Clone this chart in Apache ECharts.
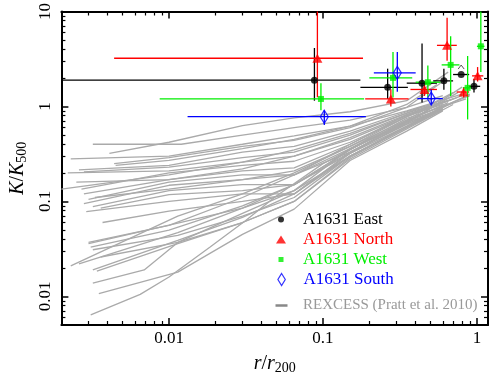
<!DOCTYPE html>
<html>
<head>
<meta charset="utf-8">
<title>A1631 entropy profiles</title>
<style>
  html, body { margin: 0; padding: 0; background: #fff; }
  #chart { width: 491px; height: 380px; }
</style>
<script src="https://cdn.jsdelivr.net/npm/echarts@6/dist/echarts.min.js"></script>
</head>
<body>
<div id="chart"></div>
<script>
// each point: [r/r200, K/K500, xLow, xHigh, yLow, yHigh]
var eastPoints = [
  [0.088, 1.89, 0.0015, 0.175, 1.15, 4.13],
  [0.263, 1.59, 0.175, 0.356, 1.2, 2.5],
  [0.44, 1.76, 0.35, 0.55, 1.1, 4.6],
  [0.61, 1.86, 0.52, 0.70, 1.5, 2.5],
  [0.79, 2.17, 0.70, 0.89, 2.17, 2.17],
  [0.957, 1.63, 0.89, 1.05, 1.4, 1.95]
];
var eastLimit = [[0.79, 2.6]];
var northPoints = [
  [0.092, 3.22, 0.0044, 0.182, 1.25, 12],
  [0.276, 1.2, 0.188, 0.36, 1.0, 1.52],
  [0.456, 1.51, 0.37, 0.55, 1.29, 1.72],
  [0.64, 4.4, 0.55, 0.74, 3.03, 8.6],
  [0.82, 1.42, 0.74, 0.89, 1.24, 1.59],
  [1.01, 2.1, 0.93, 1.1, 1.83, 2.6]
];
var westPoints = [
  [0.097, 1.2, 0.0087, 0.185, 0.91, 1.76],
  [0.285, 2.0, 0.2, 0.38, 1.24, 3.74],
  [0.48, 1.8, 0.40, 0.58, 1.24, 2.7],
  [0.675, 2.74, 0.59, 0.77, 1.29, 5.5],
  [0.87, 1.57, 0.81, 0.93, 0.73, 3.4],
  [1.06, 4.3, 1.0, 1.12, 2.3, 12]
];
var southPoints = [
  [0.102, 0.78, 0.0132, 0.19, 0.64, 0.91],
  [0.304, 2.26, 0.214, 0.40, 1.43, 3.74],
  [0.505, 1.21, 0.41, 0.60, 1.05, 1.51]
];

// REXCESS scaled entropy profiles
var rexcessProfiles = [
  [[0.0041, 0.32], [0.01, 0.42], [0.03, 0.63], [0.065, 0.76], [0.15, 0.88], [0.35, 1.15], [0.65, 2.3]],
  [[0.0032, 0.40], [0.012, 0.40], [0.03, 0.50], [0.065, 0.60], [0.15, 0.72], [0.35, 0.98], [0.6, 1.3]],
  [[0.0023, 0.28], [0.01, 0.30], [0.03, 0.40], [0.065, 0.49], [0.15, 0.62], [0.35, 0.9], [0.8, 1.35]],
  [[0.0044, 0.25], [0.01, 0.29], [0.03, 0.38], [0.065, 0.44], [0.15, 0.6], [0.35, 0.98], [0.62, 1.9]],
  [[0.0026, 0.215], [0.01, 0.24], [0.03, 0.33], [0.065, 0.38], [0.15, 0.55], [0.35, 0.88], [0.55, 1.1]],
  [[0.0028, 0.205], [0.01, 0.23], [0.03, 0.29], [0.065, 0.33], [0.15, 0.5], [0.35, 0.85], [0.7, 1.2]],
  [[0.002, 0.135], [0.005, 0.165], [0.01, 0.19], [0.03, 0.26], [0.065, 0.30], [0.15, 0.45], [0.35, 0.8], [0.6, 1.05]],
  [[0.0027, 0.135], [0.01, 0.20], [0.03, 0.24], [0.065, 0.265], [0.15, 0.42], [0.35, 0.78], [0.75, 1.25]],
  [[0.0028, 0.12], [0.01, 0.17], [0.03, 0.21], [0.065, 0.226], [0.15, 0.4], [0.35, 0.82], [0.5, 1.0]],
  [[0.003, 0.105], [0.01, 0.16], [0.03, 0.19], [0.065, 0.19], [0.15, 0.36], [0.35, 0.75], [0.85, 1.2]],
  [[0.0028, 0.095], [0.01, 0.148], [0.03, 0.17], [0.065, 0.19], [0.15, 0.33], [0.35, 0.7], [0.6, 0.95]],
  [[0.0032, 0.088], [0.01, 0.13], [0.03, 0.15], [0.065, 0.15], [0.15, 0.35], [0.35, 0.72], [0.9, 1.3]],
  [[0.0036, 0.085], [0.01, 0.118], [0.03, 0.13], [0.065, 0.15], [0.15, 0.33], [0.35, 0.65], [0.55, 0.9]],
  [[0.0029, 0.078], [0.01, 0.10], [0.03, 0.12], [0.065, 0.12], [0.15, 0.32], [0.35, 0.62], [0.7, 1.1]],
  [[0.0037, 0.06], [0.01, 0.079], [0.03, 0.10], [0.065, 0.12], [0.15, 0.3], [0.35, 0.6], [0.6, 0.92]],
  [[0.003, 0.037], [0.01, 0.056], [0.03, 0.11], [0.065, 0.19], [0.15, 0.4], [0.35, 0.78], [0.8, 1.3]],
  [[0.0031, 0.033], [0.01, 0.05], [0.03, 0.09], [0.065, 0.15], [0.15, 0.35], [0.35, 0.7], [0.65, 1.1]],
  [[0.0023, 0.021], [0.0114, 0.07], [0.03, 0.12], [0.065, 0.2], [0.15, 0.38], [0.35, 0.72], [0.5, 1.0]],
  [[0.0026, 0.022], [0.0114, 0.047], [0.03, 0.085], [0.065, 0.15], [0.15, 0.32], [0.35, 0.68], [0.75, 1.4]],
  [[0.003, 0.036], [0.0114, 0.059], [0.03, 0.085], [0.065, 0.13], [0.15, 0.3], [0.35, 0.62], [0.6, 1.0]],
  [[0.0032, 0.031], [0.0114, 0.044], [0.03, 0.07], [0.065, 0.11], [0.15, 0.3], [0.35, 0.6], [0.55, 0.9]],
  [[0.0036, 0.026], [0.0114, 0.037], [0.03, 0.06], [0.065, 0.1], [0.15, 0.28], [0.35, 0.58], [0.7, 1.05]],
  [[0.0032, 0.019], [0.0114, 0.039], [0.03, 0.068], [0.065, 0.12], [0.15, 0.33], [0.35, 0.65], [0.9, 1.35]],
  [[0.0034, 0.0185], [0.0114, 0.036], [0.03, 0.06], [0.065, 0.1], [0.15, 0.29], [0.35, 0.6], [0.6, 0.95]],
  [[0.0032, 0.0138], [0.0069, 0.019], [0.0114, 0.037], [0.03, 0.075], [0.065, 0.13], [0.15, 0.36], [0.35, 0.66], [0.8, 1.6]],
  [[0.0035, 0.0107], [0.0114, 0.018], [0.03, 0.045], [0.065, 0.083], [0.15, 0.27], [0.35, 0.55], [0.6, 0.9]],
  [[0.0031, 0.0064], [0.0065, 0.0105], [0.01, 0.016], [0.0184, 0.033], [0.0315, 0.063], [0.049, 0.112], [0.1, 0.25], [0.2, 0.45], [0.35, 0.68], [0.6, 0.92]],
  [[0.0022, 0.2], [0.01, 0.21], [0.03, 0.26], [0.065, 0.35], [0.15, 0.52], [0.35, 0.85], [0.45, 1.0]],
  [[0.0025, 0.16], [0.01, 0.17], [0.03, 0.22], [0.065, 0.3], [0.15, 0.47], [0.35, 0.82], [0.65, 1.15]],
  [[0.0033, 0.11], [0.01, 0.135], [0.03, 0.17], [0.065, 0.21], [0.15, 0.38], [0.35, 0.78], [0.7, 1.4]],
  [[0.0045, 0.24], [0.01, 0.27], [0.03, 0.36], [0.065, 0.45], [0.15, 0.62], [0.35, 1.05], [0.55, 1.7]]
];

var FONT = 'Liberation Serif';
var REX_NAME = 'REXCESS (Pratt et al. 2010)';
var DIAMOND = 'path://M4,0L8,6.5L4,13L0,6.5Z';
var TRIANGLE = 'path://M5,0L10,8L0,8Z';
var SQUARE = 'path://M0,0H5V5H0Z';

var dom = document.getElementById('chart');
var myChart = echarts.init(dom, null, { renderer: 'canvas' });

function decadeLabel(v) {
    var l = Math.log10(v);
    if (Math.abs(l - Math.round(l)) > 1e-6) return '';
    return String(+Math.pow(10, Math.round(l)).toPrecision(6));
}

function clamp(v, a, b) { return Math.max(a, Math.min(b, v)); }

// error bars, no caps, clipped to the plot box
function errorBars(name, data, color) {
    return {
        name: name + ' errors',
        type: 'custom',
        data: data,
        encode: { x: 0, y: 1 },
        z: 3,
        silent: true,
        renderItem: function (params, api) {
            var cs = params.coordSys;
            var c = api.coord([api.value(0), api.value(1)]);
            var l = api.coord([api.value(2), api.value(1)]);
            var r = api.coord([api.value(3), api.value(1)]);
            var b = api.coord([api.value(0), api.value(4)]);
            var t = api.coord([api.value(0), api.value(5)]);
            var x0 = cs.x, x1 = cs.x + cs.width, y0 = cs.y, y1 = cs.y + cs.height;
            var st = { stroke: color, lineWidth: 1.3 };
            return {
                type: 'group',
                children: [
                    { type: 'line', shape: { x1: clamp(l[0], x0, x1), y1: c[1], x2: clamp(r[0], x0, x1), y2: c[1] }, style: st },
                    { type: 'line', shape: { x1: c[0], y1: clamp(b[1], y0, y1), x2: c[0], y2: clamp(t[1], y0, y1) }, style: st }
                ]
            };
        }
    };
}

function markers(name, data, symbol, size, itemStyle) {
    return {
        name: name,
        type: 'scatter',
        data: data.map(function (d) { return [d[0], d[1]]; }),
        symbol: symbol,
        symbolSize: size,
        itemStyle: itemStyle,
        z: 4,
        silent: true
    };
}

var series = [];
rexcessProfiles.forEach(function (p) {
    series.push({
        name: REX_NAME,
        type: 'line',
        data: p,
        showSymbol: false,
        symbol: 'none',
        lineStyle: { color: '#aaaaaa', width: 1.3 },
        itemStyle: { color: '#aaaaaa' },
        z: 1,
        silent: true
    });
});
series.push(errorBars('A1631 East', eastPoints, '#000000'));
series.push(errorBars('A1631 North', northPoints, '#ff0000'));
series.push(errorBars('A1631 West', westPoints, '#00ee00'));
series.push(errorBars('A1631 South', southPoints, '#0000ff'));
series.push(markers('A1631 East', eastPoints, 'circle', 7, { color: '#000000' }));
series.push(markers('A1631 North', northPoints, 'triangle', [10, 9], { color: '#ff0000' }));
series.push(markers('A1631 West', westPoints, 'rect', 6, { color: '#00ee00' }));
series.push(markers('A1631 South', southPoints, DIAMOND, [8, 13],
    { color: 'rgba(0,0,0,0)', borderColor: '#0000ff', borderWidth: 1.3 }));
// lower-limit caret above the outer East bin
series.push({
    name: 'East limit',
    type: 'custom',
    data: eastLimit,
    encode: { x: 0, y: 1 },
    z: 4,
    silent: true,
    renderItem: function (params, api) {
        var p = api.coord([api.value(0), api.value(1)]);
        return {
            type: 'polyline',
            shape: { points: [[p[0] - 3, p[1] + 2], [p[0], p[1] - 2], [p[0] + 3, p[1] + 2]] },
            style: { stroke: '#555', fill: null, lineWidth: 1 }
        };
    }
});

function logAxis(pos, min, max, extra) {
    var ax = {
        type: 'log',
        logBase: 10,
        position: pos,
        min: min,
        max: max,
        axisLine: { show: true, onZero: false, lineStyle: { color: '#000', width: 2 } },
        axisTick: { show: true, inside: true, length: 7, lineStyle: { color: '#000', width: 1.5 } },
        minorTick: { show: true, splitNumber: 9, length: 4, lineStyle: { color: '#000', width: 1.2 } },
        splitLine: { show: false },
        minorSplitLine: { show: false },
        axisLabel: { show: false }
    };
    return Object.assign(ax, extra || {});
}

var nameRich = {
    i: { fontFamily: FONT, fontStyle: 'italic', fontSize: 20, color: '#000' },
    n: { fontFamily: FONT, fontSize: 20, color: '#000' },
    s: { fontFamily: FONT, fontSize: 14, color: '#000', padding: [9, 0, 0, 0] }
};

// legend boxes are placed by their visible icon, so left = icon centre - icon width / 2
function legendItem(name, top, left, icon, w, h, color, iconStyle, extra) {
    return Object.assign({
        data: [{ name: name, icon: icon }],
        left: left,
        top: top,
        padding: 0,
        itemWidth: w,
        itemHeight: h,
        selectedMode: false,
        symbolKeepAspect: true,
        itemStyle: iconStyle,
        textStyle: { fontFamily: FONT, fontSize: 17, color: color }
    }, extra || {});
}

var option = {
    animation: false,
    backgroundColor: '#ffffff',
    grid: { left: 50, right: 2, top: 6, bottom: 47 },
    xAxis: [
        logAxis('bottom', 0.002, 1.18, {
            name: '{i|r}{n|/}{i|r}{s|200}',
            nameLocation: 'middle',
            nameGap: 27,
            nameTextStyle: { rich: nameRich },
            axisLabel: { show: true, formatter: decadeLabel, fontFamily: FONT, fontSize: 17, color: '#000', margin: 5 }
        }),
        logAxis('top', 0.002, 1.18)
    ],
    yAxis: [
        logAxis('left', 0.005, 10, {
            name: '{i|K}{n|/}{i|K}{s|500}',
            nameLocation: 'middle',
            nameGap: 31,
            nameTextStyle: { rich: nameRich },
            axisLabel: { show: true, rotate: 90, formatter: decadeLabel, fontFamily: FONT, fontSize: 17, color: '#000', margin: 7 }
        }),
        logAxis('right', 0.005, 10)
    ],
    legend: [
        legendItem('A1631 East', 211, 278, 'circle', 34, 6, '#000000',
            { color: '#000000', borderWidth: 0 }),
        legendItem('A1631 North', 231, 276, TRIANGLE, 34, 8, '#ff0000',
            { color: '#ff0000', borderWidth: 0 }),
        legendItem('A1631 West', 251, 278.5, SQUARE, 34, 5, '#00ee00',
            { color: '#00ee00', borderWidth: 0 }),
        legendItem('A1631 South', 271, 277.3, DIAMOND, 34, 12, '#0000ff',
            { color: 'rgba(0,0,0,0)', borderColor: '#0000ff', borderWidth: 1.2 }),
        legendItem(REX_NAME, 298, 275.5, 'rect', 12, 2.5, '#999999',
            { color: '#888888', borderWidth: 0 }, {
            symbolKeepAspect: false,
            textStyle: { fontFamily: FONT, fontSize: 15, color: '#999999', padding: [0, 0, 0, 10.5] }
        })
    ],
    series: series
};

myChart.setOption(option);
window.addEventListener('resize', myChart.resize);
</script>
</body>
</html>
